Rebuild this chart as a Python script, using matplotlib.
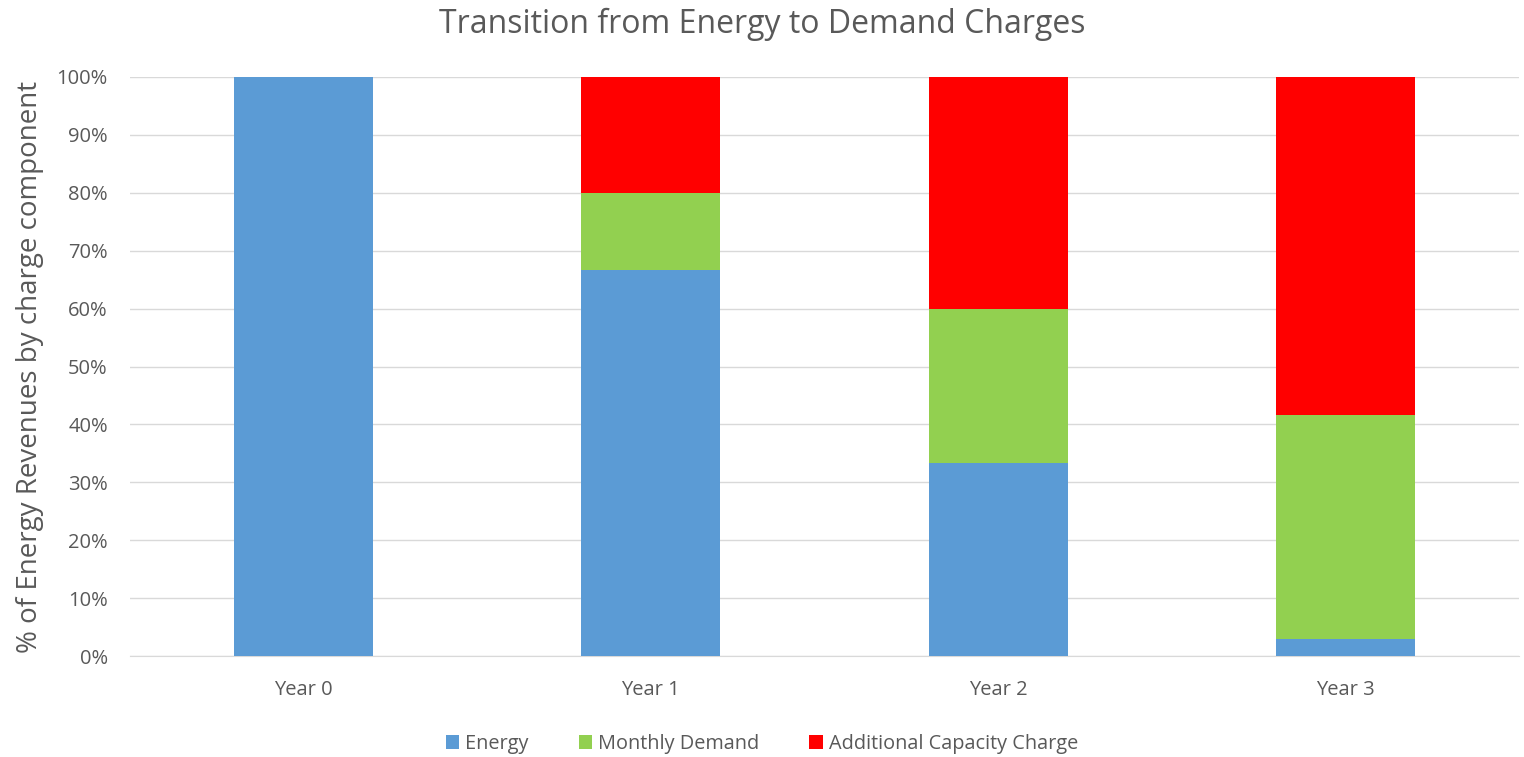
import matplotlib.pyplot as plt
import numpy as np

plt.rcParams['font.family'] = ['Open Sans', 'DejaVu Sans']

years = ['Year 0', 'Year 1', 'Year 2', 'Year 3']
energy = [100, 66.7, 33.3, 3.0]
monthly_demand = [0, 13.3, 26.7, 38.6]
additional_capacity = [0, 20.0, 40.0, 58.4]

text_col = '#595959'

fig = plt.figure(figsize=(15.24, 7.57), dpi=100)
ax = fig.add_axes([0.0853, 0.1334, 0.9114, 0.7649])

x = np.arange(len(years))
w = 0.4
ax.bar(x, energy, w, color='#5B9BD5', label='Energy', zorder=3)
ax.bar(x, monthly_demand, w, bottom=energy, color='#92D050', label='Monthly Demand', zorder=3)
bottom2 = np.array(energy) + np.array(monthly_demand)
ax.bar(x, additional_capacity, w, bottom=bottom2, color='#FF0000',
       label='Additional Capacity Charge', zorder=3)

ax.set_xlim(-0.5, 3.5)
ax.set_ylim(0, 100)
ax.set_yticks(range(0, 101, 10))
ax.set_yticklabels([f'{v}%' for v in range(0, 101, 10)])
ax.set_xticks(x)
ax.set_xticklabels(years)
ax.grid(axis='y', color='#D9D9D9', linewidth=1, zorder=0)
for s in ['top', 'right', 'left']:
    ax.spines[s].set_visible(False)
ax.spines['bottom'].set_color('#D9D9D9')
ax.tick_params(length=0, labelsize=14.5, colors=text_col)
ax.tick_params(axis='y', pad=16)
ax.tick_params(axis='x', pad=17)

ax.set_ylabel('% of Energy Revenues by charge component', fontsize=20, color=text_col, labelpad=9)
fig.suptitle('Transition from Energy to Demand Charges', fontsize=23, color=text_col, y=0.99)

leg = fig.legend(loc='lower center', ncol=3, frameon=False, fontsize=14.3,
                 bbox_to_anchor=(0.5, -0.019), handlelength=0.7, handleheight=0.7,
                 columnspacing=2.5, handletextpad=0.3)
for t in leg.get_texts():
    t.set_color(text_col)

fig.savefig('out.png', dpi=100)
